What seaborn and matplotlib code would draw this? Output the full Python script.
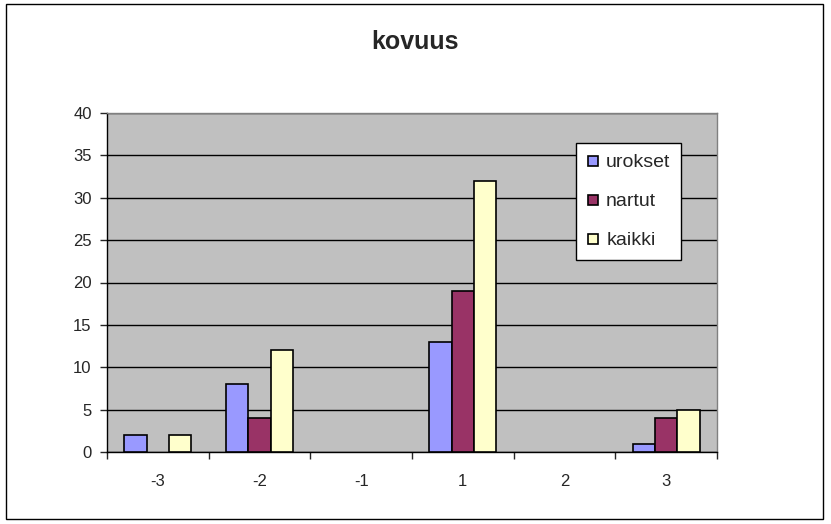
import pandas as pd
import numpy as np
import matplotlib.pyplot as plt
import seaborn as sns
from matplotlib.patches import Rectangle
from matplotlib.lines import Line2D

categories = ['-3', '-2', '-1', '1', '2', '3']
urokset = [2, 8, 0, 13, 0, 1]
nartut = [0, 4, 0, 19, 0, 4]
kaikki = [2, 12, 0, 32, 0, 5]
series_names = ['urokset', 'nartut', 'kaikki']
colors = ['#9999FF', '#993366', '#FFFFCC']

df = pd.DataFrame({'kategoria': categories * 3,
                   'arvo': urokset + nartut + kaikki,
                   'sarja': np.repeat(series_names, len(categories))})

sns.set_style('white')
plt.rcParams['font.family'] = ['Liberation Sans', 'DejaVu Sans']

fig = plt.figure(figsize=(8.31, 5.24), dpi=100)
ax = fig.add_axes([107/831, 1-452/524, 610/831, 339/524])

sns.barplot(data=df, x='kategoria', y='arvo', hue='sarja', order=categories,
            hue_order=series_names, palette=colors, width=0.66,
            edgecolor='black', linewidth=1.2, saturation=1, ax=ax, zorder=3,
            legend=False)

# zero bars are not drawn in the original
for p in ax.patches:
    if p.get_height() == 0:
        p.set_visible(False)

ax.set_facecolor('#C0C0C0')
ax.set_ylim(0, 40)
ax.set_xlim(-0.5, 5.5)
ax.set_yticks(range(0, 41, 5))
ax.yaxis.grid(True, color='black', linewidth=1)
ax.set_axisbelow(True)
ax.set_xlabel('')
ax.set_ylabel('')
for s in ax.spines.values():
    s.set_color('#808080')
    s.set_linewidth(1)
ax.spines['left'].set_color('black')
ax.spines['bottom'].set_color('black')
ax.tick_params(axis='y', direction='out', length=5, width=1, left=True, labelsize=12, pad=6)
ax.tick_params(axis='x', which='major', length=0, labelsize=12, pad=16)
ax.set_xticks(np.arange(-0.5, 6, 1), minor=True)
ax.tick_params(axis='x', which='minor', direction='out', length=5, width=1, bottom=True)

handles = [Line2D([], [], linestyle='none', marker='s', markersize=7,
                  markerfacecolor=c, markeredgecolor='black', markeredgewidth=1.2, label=n)
           for c, n in zip(colors, series_names)]
leg = ax.legend(handles=handles, loc='upper left',
                bbox_to_anchor=((576-107)/610, (452-143)/339),
                frameon=True, fancybox=False, edgecolor='black', fontsize=14,
                handlelength=0.6, handletextpad=0.4,
                labelspacing=1.1, borderpad=0.55, borderaxespad=0)
leg.get_frame().set_linewidth(1)
leg.get_frame().set_facecolor('white')
leg.get_frame().set_alpha(1)

fig.text(415/831, 1-42/524, 'kovuus', ha='center', va='center',
         fontsize=18, fontweight='bold')

fig.patches.append(Rectangle((6/831, 5/524), 817/831, 515/524, transform=fig.transFigure,
                             fill=False, edgecolor='black', linewidth=1))

fig.savefig('out.png', dpi=100)
